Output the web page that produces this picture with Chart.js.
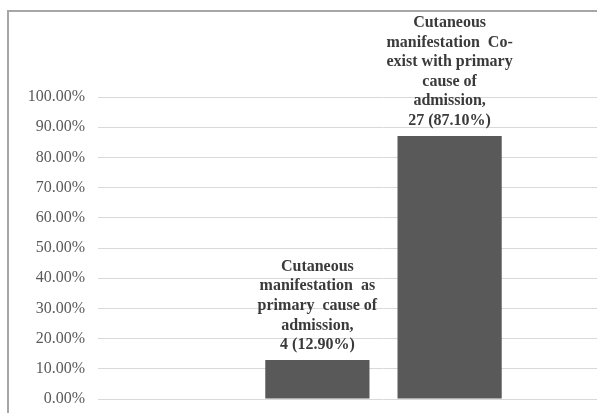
<!DOCTYPE html>
<html>
<head>
<meta charset="utf-8">
<script src="https://cdn.jsdelivr.net/npm/chart.js@4/dist/chart.umd.min.js"></script>
<style>
  html, body { margin: 0; padding: 0; background: #ffffff; overflow: hidden; }
  #frame { position: absolute; left: 7px; top: 10px; width: 720px; height: 430px;
           border-left: 2px solid #a6a6a6; border-top: 2px solid #a6a6a6; background: #fff; }
  #chart { display: block; }
</style>
</head>
<body>
<div id="frame"><canvas id="chart" width="720" height="430"></canvas></div>
<script>
// Admission groups, patient counts and shares (%)
const categories = [
  "Cutaneous manifestation as primary cause of admission",
  "Cutaneous manifestation Co-exist with primary cause of admission"
];
const counts = [4, 27];
const percents = [12.90, 87.10];
// Wrapped label text shown above each bar
const labelLines = [
  ["Cutaneous", "manifestation  as", "primary  cause of", "admission,"],
  ["Cutaneous", "manifestation  Co-", "exist with primary", "cause of", "admission,"]
];
const yTicks = [0, 10, 20, 30, 40, 50, 60, 70, 80, 90, 100];

const SERIF = "'Liberation Serif', 'Times New Roman', serif";
const BAR_COLOR = "#595959";

// Draws the multi-line value label centred above each bar
const barLabels = {
  id: "barLabels",
  afterDatasetsDraw(chart) {
    const ctx = chart.ctx;
    ctx.save();
    ctx.font = "bold 16px " + SERIF;
    ctx.fillStyle = "#3a3a3a";
    ctx.textAlign = "center";
    ctx.textBaseline = "middle";
    const lineH = 19.6;
    chart.data.datasets.forEach((ds, i) => {
      const bar = chart.getDatasetMeta(i).data[0];
      const lines = labelLines[i].concat([counts[i] + " (" + percents[i].toFixed(2) + "%)"]);
      const n = lines.length;
      lines.forEach((t, k) => {
        ctx.fillText(t, bar.x, bar.y - 15 - (n - 1 - k) * lineH);
      });
    });
    ctx.restore();
  }
};

new Chart(document.getElementById("chart"), {
  type: "bar",
  data: {
    labels: [""],
    datasets: categories.map((name, i) => ({
      label: name,
      data: [percents[i]],
      backgroundColor: BAR_COLOR,
      borderWidth: 0,
      barPercentage: 0.788,
      categoryPercentage: 0.4632
    }))
  },
  options: {
    responsive: false,
    animation: false,
    layout: { padding: { top: 85, bottom: 43, right: 60, left: 0 } },
    plugins: { legend: { display: false }, tooltip: { enabled: false } },
    scales: {
      x: { display: false },
      y: {
        min: 0,
        max: 100,
        afterFit(scale) { scale.width = 89; },
        afterBuildTicks(scale) { scale.ticks = yTicks.map(v => ({ value: v })); },
        border: { display: false },
        grid: { color: "#d9d9d9", lineWidth: 1, drawTicks: false },
        ticks: {
          padding: 13,
          color: "#595959",
          font: { family: SERIF, size: 16 },
          callback: v => v.toFixed(2) + "%"
        }
      }
    }
  },
  plugins: [barLabels]
});
</script>
</body>
</html>
